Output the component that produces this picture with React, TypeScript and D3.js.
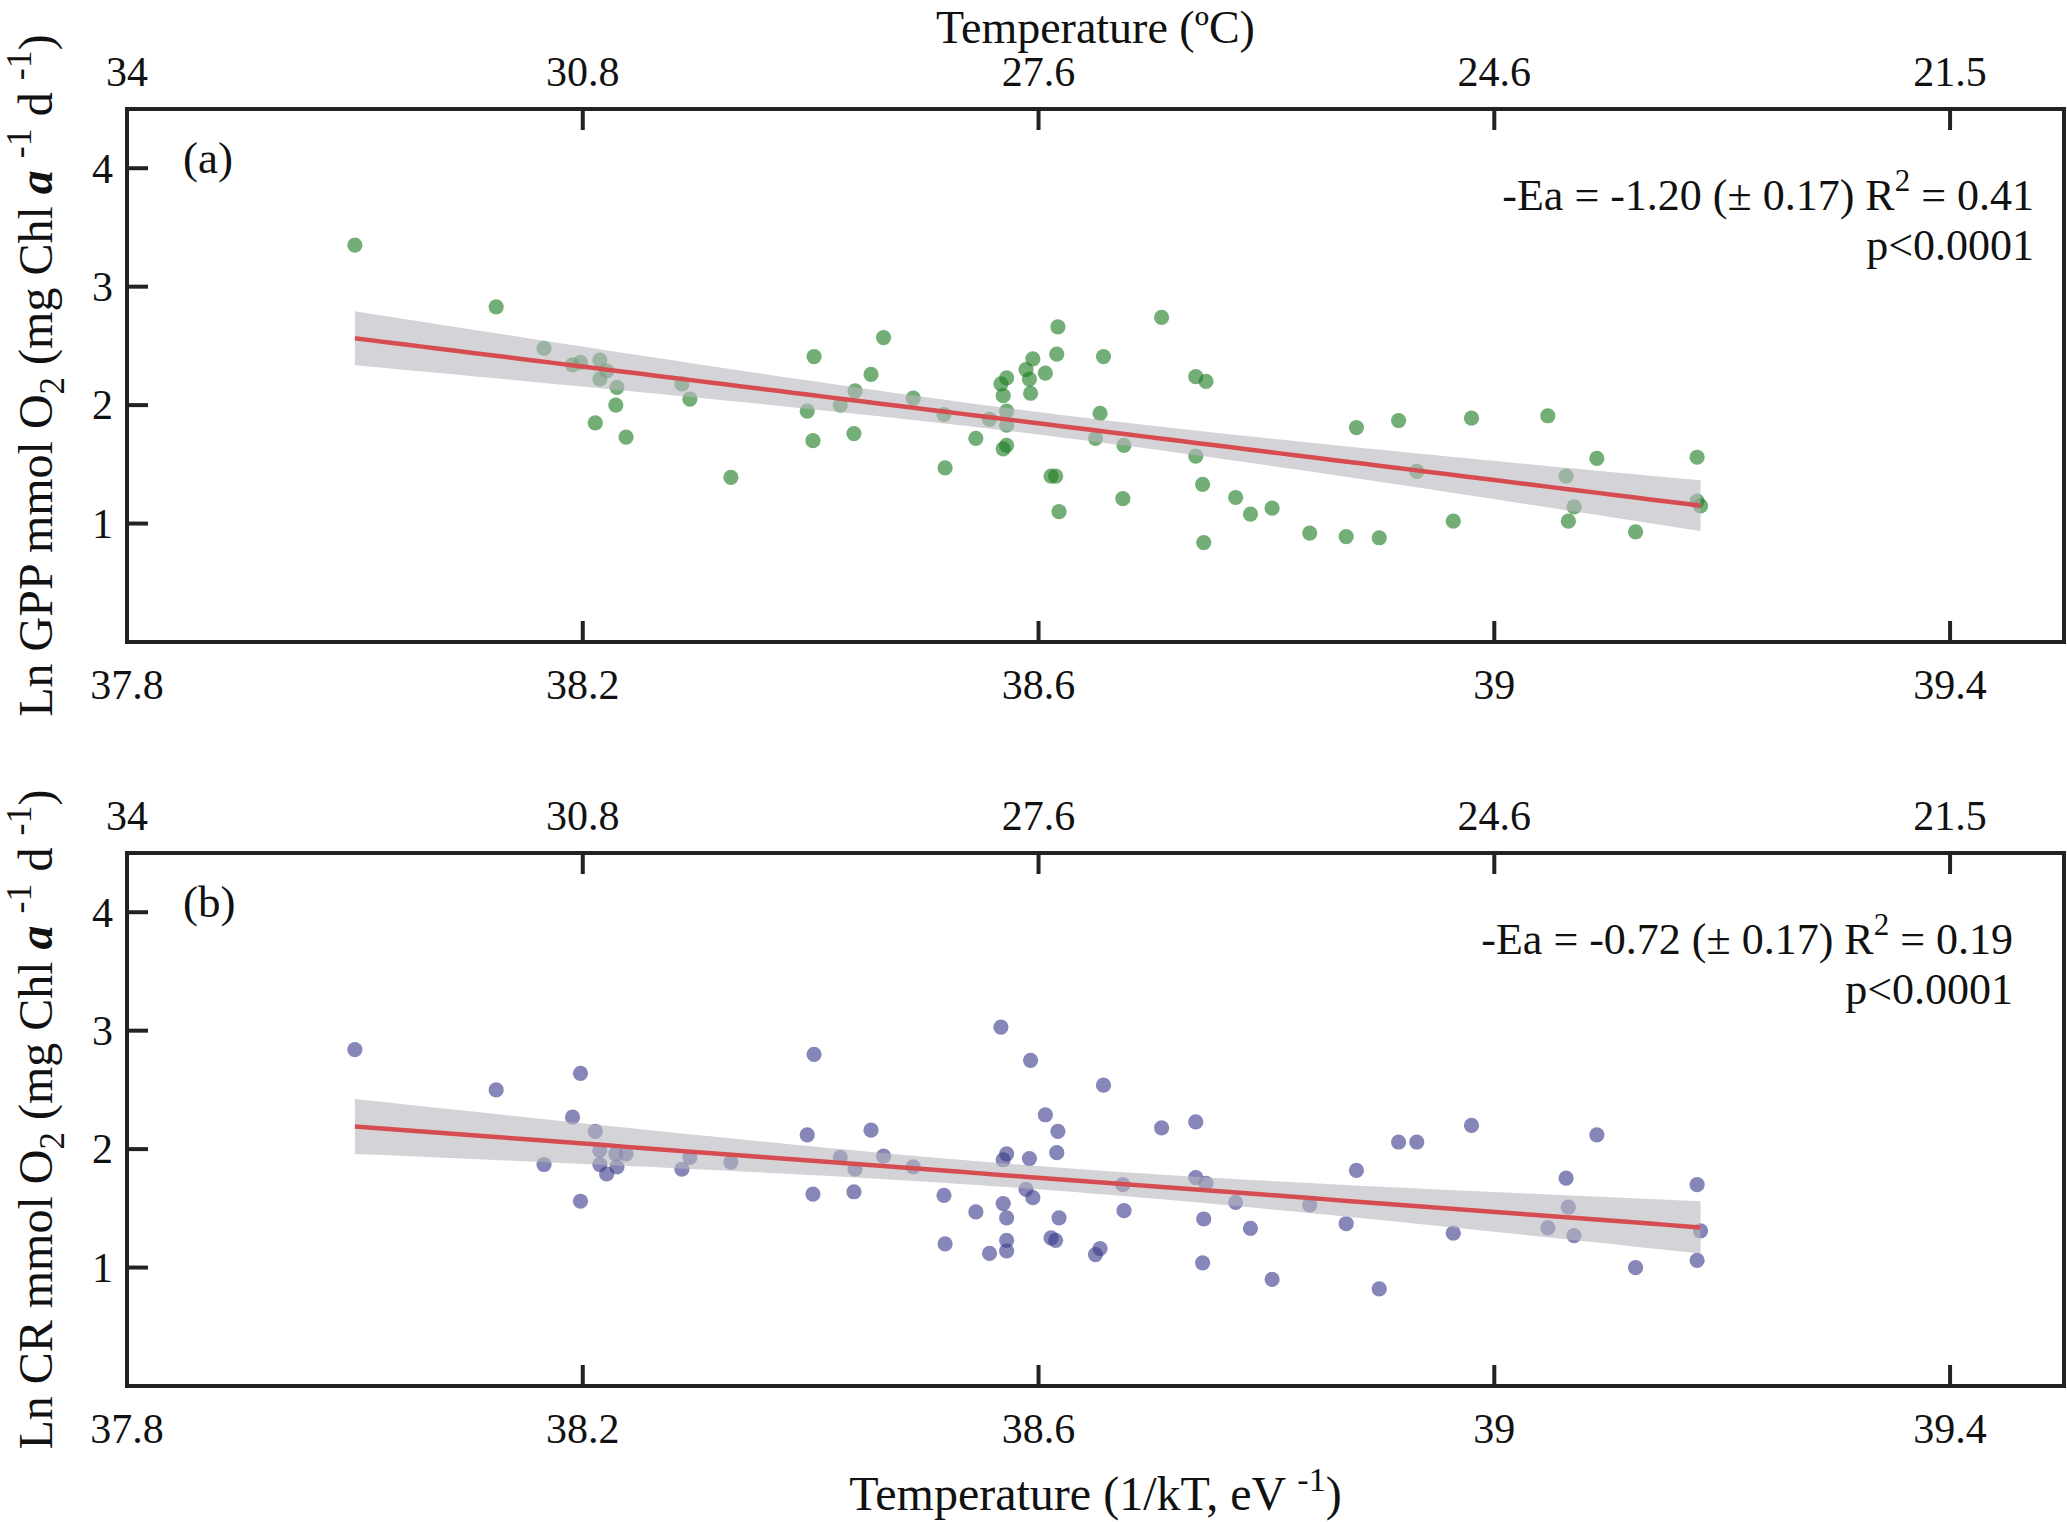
import React from "react";
import * as d3 from "d3";

const W = 2067;
const H = 1522;

// inverse temperature axis (1/kT) and the matching Celsius labels on top
const invKTTicks = [37.8, 38.2, 38.6, 39, 39.4];
const invKTLabels = ["37.8", "38.2", "38.6", "39", "39.4"];
const celsiusLabels = ["34", "30.8", "27.6", "24.6", "21.5"];
const yTicks = [1, 2, 3, 4];

// (a) Ln GPP vs 1/kT
const gppPoints: [number, number][] = [
  [38.0, 3.35], [38.124, 2.83], [38.166, 2.48], [38.191, 2.34], [38.198, 2.36],
  [38.215, 2.38], [38.221, 2.29], [38.215, 2.22], [38.23, 2.15], [38.229, 2.0],
  [38.211, 1.85], [38.238, 1.73], [38.287, 2.18], [38.294, 2.05], [38.33, 1.39],
  [38.403, 2.41], [38.397, 1.95], [38.402, 1.7], [38.464, 2.57], [38.453, 2.26],
  [38.439, 2.12], [38.426, 2.0], [38.438, 1.76], [38.49, 2.06], [38.517, 1.92],
  [38.518, 1.47], [38.545, 1.72], [38.557, 1.88], [38.572, 2.23], [38.567, 2.18],
  [38.569, 2.08], [38.572, 1.95], [38.572, 1.83], [38.572, 1.66], [38.569, 1.63],
  [38.595, 2.39], [38.589, 2.3], [38.592, 2.22], [38.593, 2.1], [38.606, 2.27],
  [38.617, 2.66], [38.616, 2.43], [38.657, 2.41], [38.654, 1.93], [38.65, 1.72],
  [38.675, 1.66], [38.611, 1.4], [38.615, 1.4], [38.618, 1.1], [38.674, 1.21],
  [38.708, 2.74], [38.738, 2.24], [38.747, 2.2], [38.738, 1.57], [38.744, 1.33],
  [38.745, 0.84], [38.773, 1.22], [38.786, 1.08], [38.805, 1.13], [38.838, 0.92],
  [38.87, 0.89], [38.899, 0.88], [38.879, 1.81], [38.916, 1.87], [38.932, 1.44],
  [38.964, 1.02], [38.98, 1.89], [39.047, 1.91], [39.063, 1.4], [39.09, 1.55],
  [39.07, 1.14], [39.065, 1.02], [39.124, 0.93], [39.178, 1.56], [39.178, 1.19],
  [39.181, 1.15],
];

// (b) Ln CR vs 1/kT
const crPoints: [number, number][] = [
  [38.0, 2.84], [38.124, 2.5], [38.198, 2.64], [38.191, 2.27], [38.211, 2.15],
  [38.166, 1.87], [38.215, 1.99], [38.229, 1.96], [38.238, 1.96], [38.215, 1.87],
  [38.23, 1.85], [38.221, 1.79], [38.198, 1.56], [38.294, 1.93], [38.287, 1.83],
  [38.33, 1.89], [38.403, 2.8], [38.397, 2.12], [38.453, 2.16], [38.426, 1.93],
  [38.439, 1.83], [38.464, 1.94], [38.49, 1.85], [38.402, 1.62], [38.438, 1.64],
  [38.517, 1.61], [38.545, 1.47], [38.518, 1.2], [38.557, 1.12], [38.567, 3.03],
  [38.572, 1.96], [38.569, 1.91], [38.569, 1.54], [38.572, 1.42], [38.572, 1.23],
  [38.572, 1.14], [38.593, 2.75], [38.592, 1.92], [38.589, 1.66], [38.595, 1.59],
  [38.606, 2.29], [38.617, 2.15], [38.616, 1.97], [38.657, 2.54], [38.674, 1.7],
  [38.675, 1.48], [38.618, 1.42], [38.611, 1.25], [38.615, 1.23], [38.654, 1.16],
  [38.65, 1.11], [38.708, 2.18], [38.738, 2.23], [38.738, 1.76], [38.747, 1.71],
  [38.745, 1.41], [38.744, 1.04], [38.773, 1.55], [38.786, 1.33], [38.805, 0.9],
  [38.838, 1.53], [38.87, 1.37], [38.899, 0.82], [38.879, 1.82], [38.916, 2.06],
  [38.932, 2.06], [38.964, 1.29], [38.98, 2.2], [39.047, 1.335], [39.063, 1.755],
  [39.09, 2.12], [39.07, 1.27], [39.065, 1.51], [39.124, 1.0], [39.178, 1.7],
  [39.181, 1.31], [39.178, 1.06],
];

const gppStats = { ea: "-1.20", se: "0.17", r2: "0.41", p: "p<0.0001" };
const crStats = { ea: "-0.72", se: "0.17", r2: "0.19", p: "p<0.0001" };

const FONT = "'Liberation Serif', 'Times New Roman', serif";
const INK = "#222";
const LEFT = 127;
const RIGHT = 2064;
const PH = 533;
const TICK = 21;

const x = d3.scaleLinear().domain([37.8, 39.5]).range([LEFT, RIGHT]);

// least squares fit with a 95% band for the mean
function fitLine(pts: [number, number][]) {
  const n = pts.length;
  const mx = d3.mean(pts, (d) => d[0])!;
  const my = d3.mean(pts, (d) => d[1])!;
  const sxx = d3.sum(pts, (d) => (d[0] - mx) ** 2);
  const sxy = d3.sum(pts, (d) => (d[0] - mx) * (d[1] - my));
  const b = sxy / sxx;
  const a = my - b * mx;
  const s2 = d3.sum(pts, (d) => (d[1] - a - b * d[0]) ** 2) / (n - 2);
  const t = 1.993;
  const [x0, x1] = d3.extent(pts, (d) => d[0]) as [number, number];
  return {
    x0,
    x1,
    at: (v: number) => a + b * v,
    half: (v: number) => t * Math.sqrt(s2 * (1 / n + (v - mx) ** 2 / sxx)),
  };
}

interface PanelProps {
  top: number;
  points: [number, number][];
  fill: string;
  tag: string;
  stats: { ea: string; se: string; r2: string; p: string };
  statsX: number;
  yName: string;
}

const Panel: React.FC<PanelProps> = ({ top, points, fill, tag, stats, statsX, yName }) => {
  const bottom = top + PH;
  const y = d3.scaleLinear().domain([0, 4.5]).range([bottom, top]);
  const f = fitLine(points);
  const xs = d3.range(81).map((i) => f.x0 + ((f.x1 - f.x0) * i) / 80);
  const band = d3
    .area<number>()
    .x((d) => x(d))
    .y0((d) => y(f.at(d) - f.half(d)))
    .y1((d) => y(f.at(d) + f.half(d)));
  const fit = d3
    .line<number>()
    .x((d) => x(d))
    .y((d) => y(f.at(d)));
  const midY = (top + bottom) / 2;

  return (
    <g>
      {/* top (Celsius) tick labels */}
      {invKTTicks.map((t, i) => (
        <text key={"tl" + i} x={x(t)} y={top - 23} fontSize={42} textAnchor="middle">
          {celsiusLabels[i]}
        </text>
      ))}
      {/* bottom (1/kT) tick labels */}
      {invKTTicks.map((t, i) => (
        <text key={"bl" + i} x={x(t)} y={bottom + 57} fontSize={42} textAnchor="middle">
          {invKTLabels[i]}
        </text>
      ))}
      {yTicks.map((t) => (
        <text key={"yl" + t} x={113} y={y(t)} dy="0.34em" fontSize={42} textAnchor="end">
          {t}
        </text>
      ))}

      {points.map((d, i) => (
        <circle key={i} cx={x(d[0])} cy={y(d[1])} r={7.6} fill={fill} fillOpacity={0.62} />
      ))}
      <path d={band(xs) || ""} fill="rgb(183,183,190)" fillOpacity={0.6} />
      <path d={fit(xs) || ""} fill="none" stroke="rgb(214,76,80)" strokeWidth={4.5} />

      {/* frame and inward ticks */}
      {invKTTicks.map((t) => (
        <g key={"tk" + t}>
          <line x1={x(t)} x2={x(t)} y1={bottom} y2={bottom - TICK} stroke={INK} strokeWidth={4} />
          <line x1={x(t)} x2={x(t)} y1={top} y2={top + TICK} stroke={INK} strokeWidth={4} />
        </g>
      ))}
      {yTicks.map((t) => (
        <line key={"ty" + t} x1={LEFT} x2={LEFT + TICK} y1={y(t)} y2={y(t)} stroke={INK} strokeWidth={4} />
      ))}
      <rect x={LEFT} y={top} width={RIGHT - LEFT} height={PH} fill="none" stroke={INK} strokeWidth={4} />

      <text x={183} y={y(4) + 5} fontSize={45}>
        {tag}
      </text>
      <text x={statsX} y={top + 101} fontSize={44} textAnchor="end">
        {`-Ea = ${stats.ea} (± ${stats.se}) R`}
        <tspan dy={-19} fontSize={31}>2</tspan>
        <tspan dy={19}>{` = ${stats.r2}`}</tspan>
      </text>
      <text x={statsX} y={top + 151} fontSize={44} textAnchor="end">
        {stats.p}
      </text>

      <text transform={`translate(52,${midY}) rotate(-90)`} fontSize={48} textAnchor="middle">
        {`Ln ${yName} mmol O`}
        <tspan dy={12} fontSize={35}>2</tspan>
        <tspan dy={-12}>{" (mg Chl "}</tspan>
        <tspan fontStyle="italic" fontWeight="bold">a</tspan>
        <tspan>{"  "}</tspan>
        <tspan dy={-21} fontSize={36}>-1</tspan>
        <tspan dy={21}>{"  d  "}</tspan>
        <tspan dy={-21} fontSize={36}>-1</tspan>
        <tspan dy={21}>)</tspan>
      </text>
    </g>
  );
};

export default function App() {
  const cx = (LEFT + RIGHT) / 2;
  return (
    <svg
      width={W}
      height={H}
      style={{ position: "absolute", left: 0, top: 0, background: "#fff" }}
      fontFamily={FONT}
      fill="#111"
    >
      <text x={cx} y={43} fontSize={46} textAnchor="middle">
        Temperature (ºC)
      </text>
      <Panel top={109} points={gppPoints} fill="rgb(30,125,35)" tag="(a)" stats={gppStats} statsX={2034} yName="GPP" />
      <Panel top={853} points={crPoints} fill="rgb(60,60,140)" tag="(b)" stats={crStats} statsX={2013} yName="CR" />
      <text x={cx} y={1510} fontSize={48} textAnchor="middle">
        {"Temperature (1/kT, eV "}
        <tspan dy={-19} fontSize={34}>-1</tspan>
        <tspan dy={19}>)</tspan>
      </text>
    </svg>
  );
}
